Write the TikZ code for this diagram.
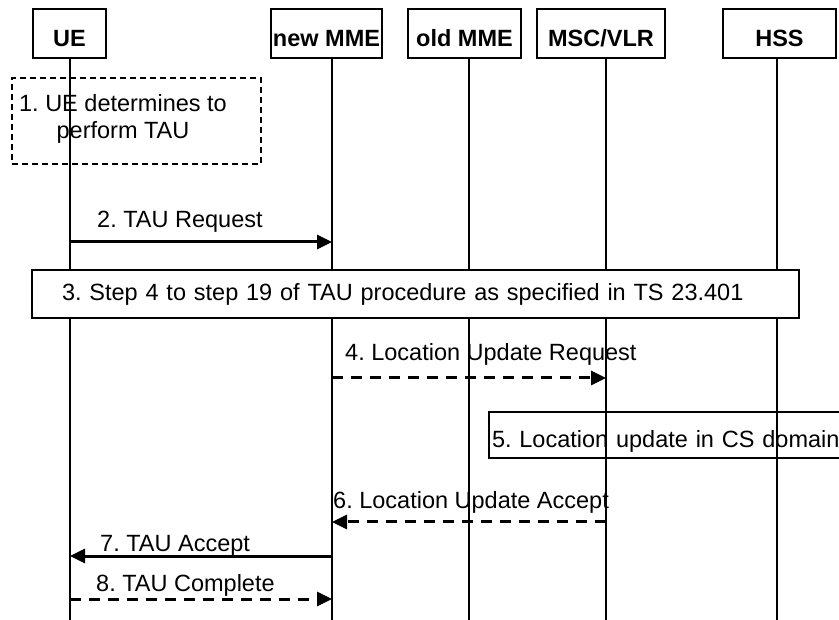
\documentclass[tikz,border=0pt]{standalone}
\usepackage{fontspec}
\setmainfont{Liberation Sans}
\usetikzlibrary{positioning}
\usetikzlibrary{calc}
\usetikzlibrary{arrows.meta}
\frenchspacing

\begin{document}
\begin{tikzpicture}[x=1pt,y=-1pt,
	font=\fontsize{23.5}{26.5}\selectfont,
	entity/.style={draw, line width=1.2pt, minimum height=49pt, inner sep=2pt, text height=27pt, text depth=0pt, font=\fontsize{23.5}{26.5}\selectfont\bfseries},
	lifel/.style={line width=1.2pt},
	msg/.style={line width=3pt, -{Triangle[length=15pt,width=14pt]}},
	dmsg/.style={msg, dash pattern=on 11pt off 8pt},
	lbl/.style={anchor=base west, inner sep=0pt}]
	\useasboundingbox (0,0) rectangle (839,620);
	
	\node at (69.5,33.5) (ue) [entity, minimum width=73pt] {UE};
	\node at (326.5,33.5) (newmme) [entity, minimum width=111pt] {new MME};
	\node at (464.5,33.5) (oldmme) [entity, minimum width=113pt] {old MME};
	\node at (601,33.5) (mscvlr) [entity, minimum width=128pt] {MSC/VLR};
	\node at (779.5,33.5) (hss) [entity, minimum width=113pt] {HSS};
	
	\coordinate (uel) at (70,58);
	\coordinate (newmmel) at (332,58);
	\coordinate (oldmmel) at (469,58);
	\coordinate (mscvlrl) at (606,58);
	\coordinate (hssl) at (777,58);
	\coordinate (bot) at (0,620);
	\draw[lifel] (uel) -- (uel |- bot);
	\draw[lifel] (newmmel) -- (newmmel |- bot);
	\draw[lifel] (oldmmel) -- (oldmmel |- bot);
	\draw[lifel] (mscvlrl) -- (mscvlrl |- bot);
	\draw[lifel] (hssl) -- (hssl |- bot);
	
	% step 1
	\node at (136.5,121) (determ) [draw, line width=1.2pt, dash pattern=on 6pt off 4pt, minimum width=249pt, minimum height=86pt] {};
	\node at (123,119) (determt) [align=center, inner sep=0pt] {1. UE determines to\\perform TAU};
	
	% step 2
	\coordinate (m2) at (0,242);
	\node at (97,228) (tauReq) [lbl] {2. TAU Request};
	\draw[msg] (uel |- m2) -- (newmmel |- m2);
	
	% step 3
	\node at (415.5,294) (tauproc) [draw, fill=white, line width=1.2pt, minimum width=767pt, minimum height=48pt, text width=707pt, inner xsep=30pt, align=left] {3. Step 4 to step 19 of TAU procedure as specified in TS 23.401};
	
	% steps 4 to 6
	\coordinate (m4) at (0,378);
	\node at (345,361) (locReq) [lbl] {4. Location Update Request};
	\draw[dmsg] (newmmel |- m4) -- (mscvlrl |- m4);
	
	\node at (686,435) (csloc) [draw, line width=1.2pt, minimum height=46pt, text width=388pt, inner xsep=3pt, align=left, text height=26pt, text depth=0pt] {5. Location update in CS domain};
	
	\coordinate (m6) at (0,522);
	\node at (333,509) (locAcc) [lbl] {6. Location Update Accept};
	\draw[dmsg] (mscvlrl |- m6) -- (newmmel |- m6);
	
	% steps 7 and 8
	\coordinate (m7) at (0,556);
	\node at (100,551) (tauAcc) [lbl] {7. TAU Accept};
	\draw[msg] (newmmel |- m7) -- (uel |- m7);
	
	\coordinate (m8) at (0,599);
	\node at (96,591) (tauCmp) [lbl] {8. TAU Complete};
	\draw[dmsg] (uel |- m8) -- (newmmel |- m8);
	
\end{tikzpicture}
\end{document}
